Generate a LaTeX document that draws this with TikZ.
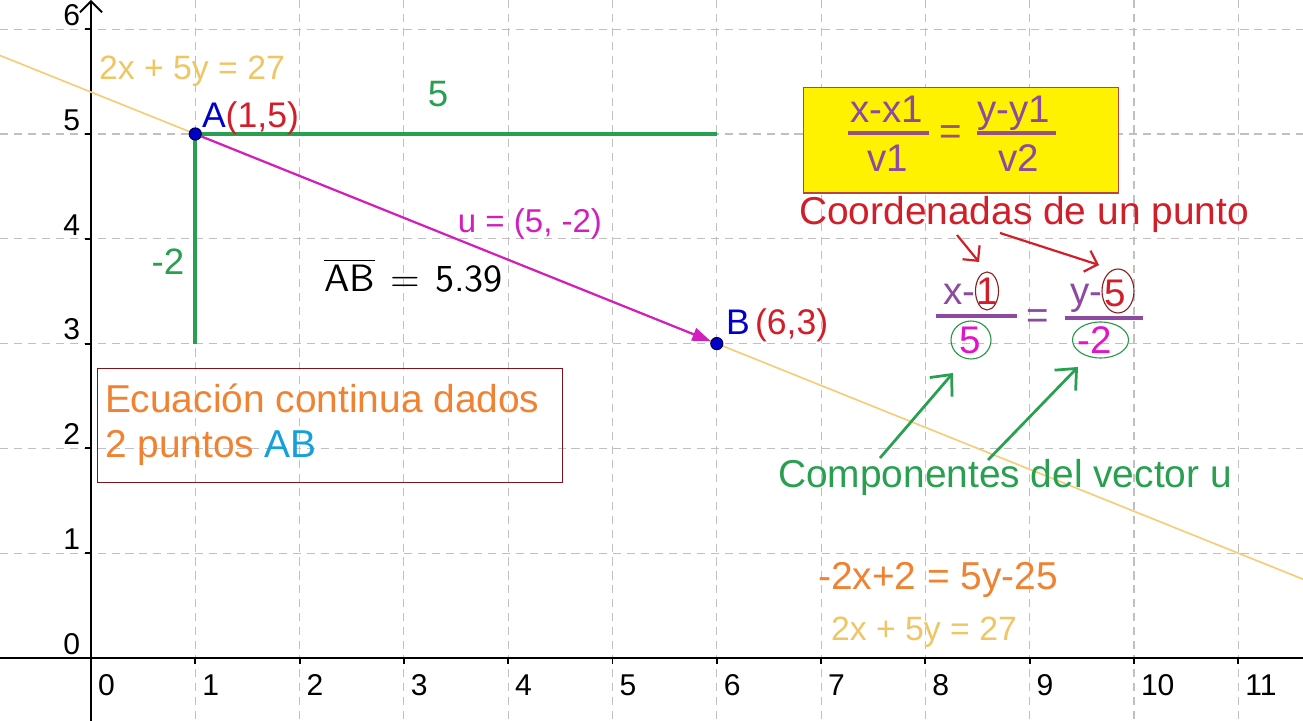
\documentclass[tikz,border=0pt]{standalone}
\usepackage{fontspec}
\setmainfont{Liberation Sans}
\usetikzlibrary{arrows.meta}
\definecolor{gridc}{RGB}{192,192,192}
\definecolor{eqc}{RGB}{245,205,120}
\definecolor{eqtext}{RGB}{240,198,100}
\definecolor{gre}{RGB}{40,160,80}
\definecolor{mag}{RGB}{210,30,190}
\definecolor{fmag}{RGB}{225,20,200}
\definecolor{redc}{RGB}{210,30,40}
\definecolor{ptblue}{RGB}{0,0,200}
\definecolor{pur}{RGB}{140,75,160}
\definecolor{barc}{RGB}{150,80,130}
\definecolor{ora}{RGB}{240,130,50}
\definecolor{abblue}{RGB}{20,160,220}
\definecolor{yel}{RGB}{255,242,0}
\definecolor{ybord}{RGB}{180,70,70}
\definecolor{ecbord}{RGB}{128,20,30}
\definecolor{ellred}{RGB}{140,30,30}
\definecolor{ellgre}{RGB}{40,150,70}
\newcommand{\myfs}[1]{\fontsize{#1}{#1}\selectfont}
\begin{document}
\begin{tikzpicture}[x=0.009588cm,y=-0.009588cm,
  lbl/.style={inner sep=0pt, outer sep=0pt},
  ticklab/.style={lbl, font=\myfs{8.2}},
  big/.style={lbl, font=\myfs{10.6}},
  ptlab/.style={lbl, font=\myfs{9.7}},
  frac/.style={lbl, font=\myfs{10.5}, text=pur},
  gridline/.style={draw=gridc, line width=0.3pt, dash pattern=on 2.2pt off 1.6pt},
  axis/.style={draw=black, line width=0.5pt},
  eqline/.style={draw=eqc, line width=0.45pt},
  gline/.style={draw=gre, line width=1pt},
  vec/.style={draw=mag, line width=0.6pt, -{Triangle[length=5pt,width=3.6pt]}},
  dot/.style={circle, fill=ptblue, draw=black!70!blue, line width=0.3pt, minimum size=3.3pt, inner sep=0pt},
  fbar/.style={draw=barc, line width=1pt},
  fbartwo/.style={draw=pur, line width=0.9pt},
  ellr/.style={draw=ellred, line width=0.3pt},
  ellg/.style={draw=ellgre, line width=0.3pt},
  redarrow/.style={draw=redc, line width=0.6pt, -{Straight Barb[length=3pt,width=6pt]}},
  grearrow/.style={draw=gre, line width=0.75pt, -{Straight Barb[length=4.5pt,width=8pt]}}]
\fill[white] (0,0) rectangle (1303,721);
\useasboundingbox (0,0) rectangle (1303,721);
% grid
\foreach \i in {1,...,11} \draw[gridline] ({91+104.3*\i},0) -- ({91+104.3*\i},721);
\foreach \j in {1,...,6} \draw[gridline] (0,{658-104.8*\j}) -- (1303,{658-104.8*\j});
% axes
\coordinate (xl) at (0,658);
\coordinate (xr) at (1303,658);
\coordinate (yb) at (91,721);
\coordinate (yt) at (91,0);
\draw[axis] (xl) -- (xr);
\draw[axis, -{Straight Barb[length=3pt,width=6pt]}] (yb) -- (yt);
\foreach \i in {0,...,11} {
  \draw[axis] ({91+104.3*\i},658) -- ({91+104.3*\i},664);
  \node[ticklab, anchor=west] (xlab\i) at ({91+104.3*\i+7},685) {\i};
}
\foreach \j in {0,...,6} {
  \draw[axis] (85,{658-104.8*\j}) -- (91,{658-104.8*\j});
  \node[ticklab, anchor=east] (ylab\j) at (80,{658-104.8*\j-14}) {\j};
}
% line 2x+5y=27
\coordinate (L1) at (0,55.5);
\coordinate (L2) at (1303,579.2);
\draw[eqline] (L1) -- (L2);
% green components
\coordinate (PA) at (195.3,134);
\coordinate (PB) at (716.8,343.6);
\coordinate (Ah) at (716.8,134);
\coordinate (Av) at (195.3,343.6);
\draw[gline] (PA) -- (Ah);
\draw[gline] (PA) -- (Av);
% points
\node[dot] (A) at (PA) {};
\node[dot] (B) at (PB) {};
\draw[vec] (A) -- (B);
\node[ptlab, anchor=base west] (Alab) at (202,128) {\textcolor{ptblue}{A}\textcolor{redc}{(1,5)}};
\node[ptlab, anchor=base west] (Blab) at (726,335) {\textcolor{ptblue}{B}\kern0.15em\textcolor{redc}{(6,3)}};
\node[lbl, text=mag, font=\myfs{9}] (ulab) at (530,224) {u = (5, -2)};
\node[lbl, text=gre, font=\myfs{10}] (five) at (438,94) {5};
\node[lbl, text=gre, font=\myfs{10}] (mtwo) at (168,262) {-2};
\node[lbl, font=\myfs{10.4}\sffamily, anchor=base] (len) at (413.5,292) {$\overline{\mbox{AB}}$\hspace{0.42em}=\hspace{0.38em}5.39};
% equation labels
\node[lbl, text=eqtext, font=\myfs{9.2}, anchor=base] (eqtop) at (192,80) {2x + 5y = 27};
\node[lbl, text=eqtext, font=\myfs{9.2}, anchor=base] (eqbot) at (924,641) {2x + 5y = 27};
\node[big, text=ora, anchor=base] (eqmid) at (938,590) {-2x+2 = 5y-25};
% yellow box
\node[draw=ybord, fill=yel, line width=0.3pt, minimum width=3.011cm, minimum height=1.007cm, inner sep=0pt] (ybox) at (961,140.5) {};
\node[frac, anchor=base] (fan) at (887,123) {x-x1};
\node[frac, anchor=base] (fad) at (888,172) {v1};
\coordinate (b1l) at (848,133);
\coordinate (b1r) at (929,133);
\draw[fbar] (b1l) -- (b1r);
\node[lbl, font=\myfs{10.5}, text=barc] (feq) at (951,135) {=};
\node[frac, anchor=base] (fbn) at (1014,123) {y-y1};
\node[frac, anchor=base] (fbd) at (1019,172) {v2};
\coordinate (b2l) at (977,133);
\coordinate (b2r) at (1056,133);
\draw[fbar] (b2l) -- (b2r);
% coordinates text
\node[big, text=redc, anchor=base] (coord) at (1024,225) {Coordenadas de un punto};
\coordinate (r1s) at (957,235);
\coordinate (r1e) at (979,262);
\coordinate (r2s) at (1000,233);
\coordinate (r2e) at (1099,265);
\draw[redarrow] (r1s) -- (r1e);
\draw[redarrow] (r2s) -- (r2e);
% second fraction
\node[frac, anchor=base west] (xm) at (943,305) {x-};
\node[frac, text=redc, anchor=base] (one) at (987,305) {1};
\draw[ellr] (987,291) ellipse [x radius=11.5, y radius=19];
\coordinate (c1l) at (936,316);
\coordinate (c1r) at (1017,316);
\draw[fbartwo] (c1l) -- (c1r);
\node[frac, text=fmag] (dfive) at (970,340) {5};
\draw[ellg] (971,340) ellipse [x radius=20, y radius=19];
\node[frac] (eqtwo) at (1038,319) {=};
\node[frac, anchor=base west] (ym) at (1070,305) {y-};
\node[frac, text=redc] (nfive) at (1115,293) {5};
\draw[ellr] (1118,291) ellipse [x radius=16, y radius=22];
\coordinate (c2l) at (1065,318);
\coordinate (c2r) at (1143,318);
\draw[fbartwo] (c2l) -- (c2r);
\node[frac, text=fmag] (dmtwo) at (1095,340) {-2};
\draw[ellg] (1100.5,340) ellipse [x radius=28, y radius=18];
% components
\node[big, text=gre, anchor=base] (comp) at (1005,488) {Componentes del vector u};
\coordinate (g1s) at (880,458);
\coordinate (g1e) at (953,373);
\coordinate (g2s) at (988,460);
\coordinate (g2e) at (1078,367);
\draw[grearrow] (g1s) -- (g1e);
\draw[grearrow] (g2s) -- (g2e);
% ecuacion box
\node[draw=ecbord, line width=0.3pt, minimum width=4.449cm, minimum height=1.093cm, inner sep=0pt] (ecbox) at (330,425.5) {};
\node[big, text=ora, anchor=base west] (ec1) at (105,413) {Ecuación continua dados};
\node[big, text=ora, anchor=base west] (ec2) at (105,458) {2 puntos \textcolor{abblue}{AB}};
\end{tikzpicture}
\end{document}
